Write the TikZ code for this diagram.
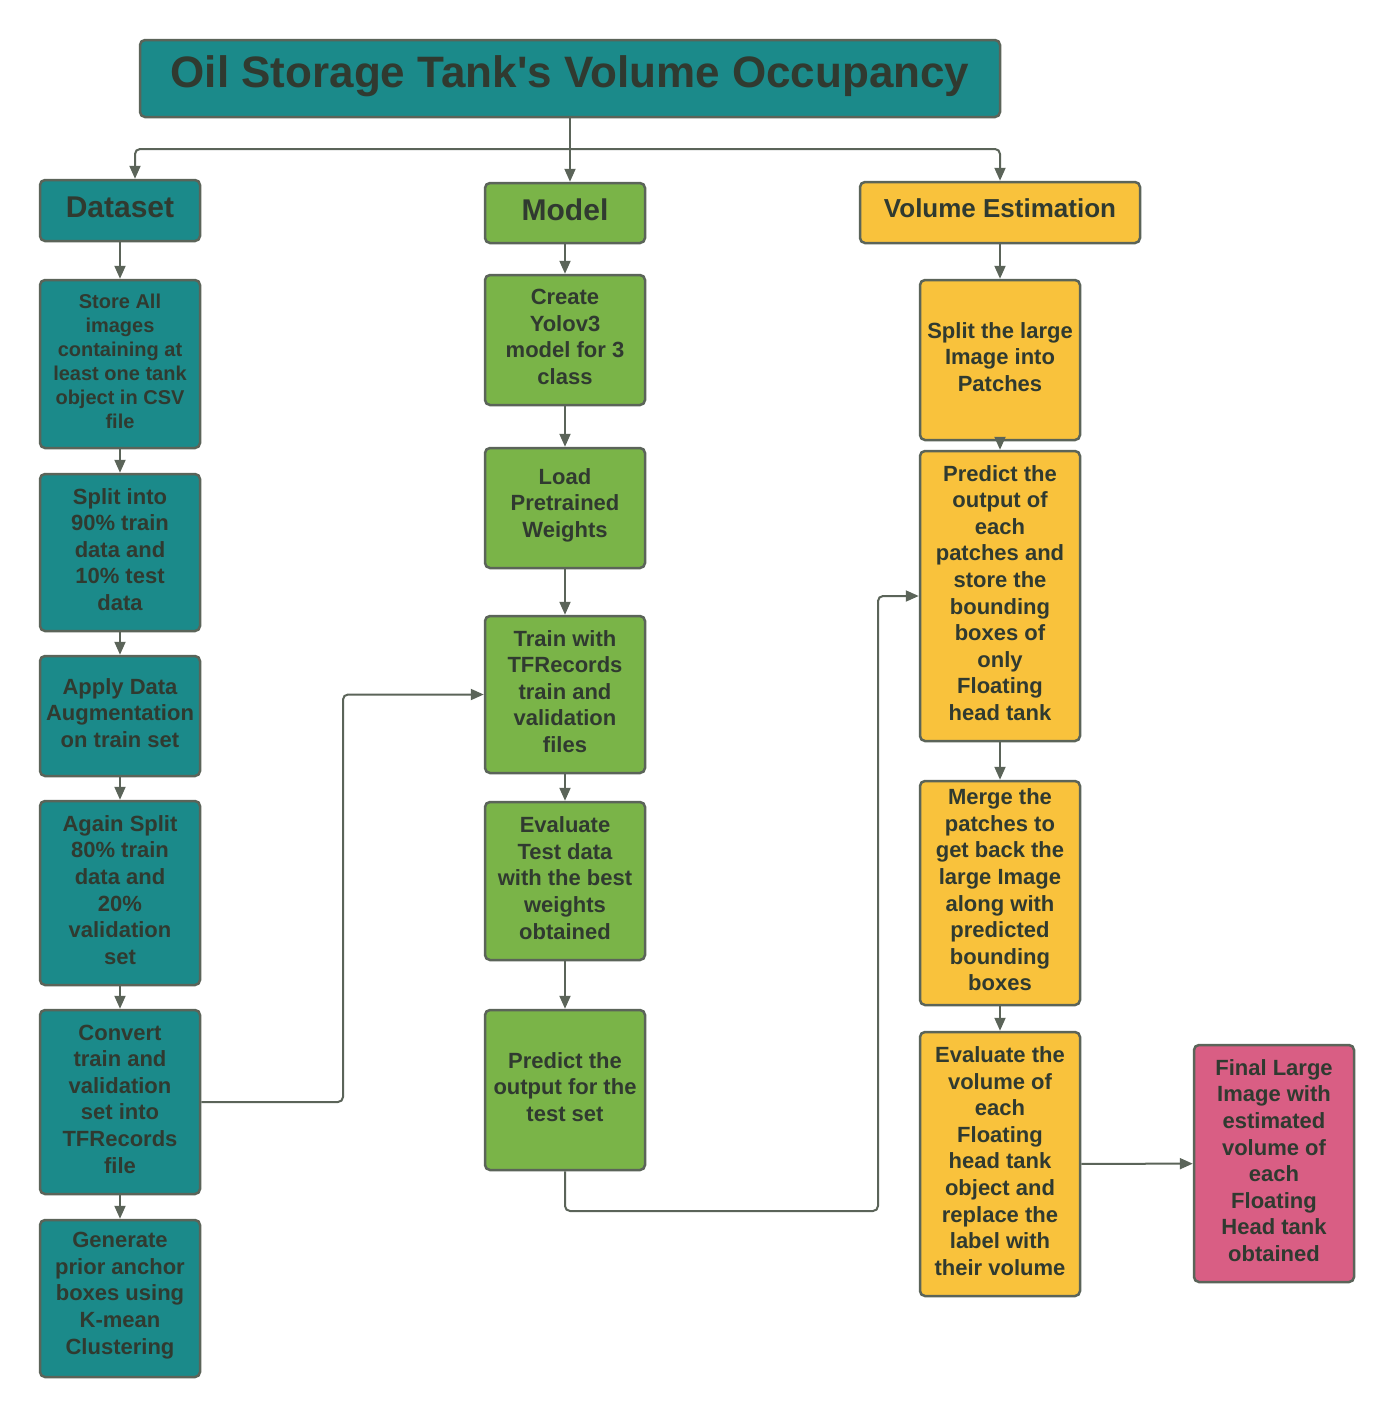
\documentclass[tikz,border=0pt]{standalone}
\usepackage{fontspec}
\setmainfont{Liberation Sans}
\usetikzlibrary{arrows.meta}
\definecolor{tealc}{RGB}{27,138,138}
\definecolor{greenc}{RGB}{122,180,72}
\definecolor{yellowc}{RGB}{249,194,60}
\definecolor{pinkc}{RGB}{217,94,132}
\definecolor{linec}{RGB}{91,100,89}
\definecolor{textc}{RGB}{48,58,48}
\newcommand\tbx[1]{\raisebox{3pt}[\height][\depth]{\parbox{160pt}{\centering #1}}}
\newcommand\tup[2]{\raisebox{#1}[\height][\depth]{#2}}
\begin{document}
\begin{tikzpicture}[x=1pt,y=-1pt,
  box/.style={draw=linec, line width=2.5pt, rounded corners=5pt, inner sep=0pt,
    minimum width=160pt, align=center, text=textc,
    font=\fontsize{22}{26.6}\selectfont\bfseries},
  tealbox/.style={box, fill=tealc},
  greenbox/.style={box, fill=greenc},
  yellowbox/.style={box, fill=yellowc},
  pinkbox/.style={box, fill=pinkc},
  arr/.style={draw=linec, line width=2pt, -{Triangle[length=13pt,width=11pt]}},
  conn/.style={draw=linec, line width=2pt, rounded corners=5pt}]
\useasboundingbox (0,0) rectangle (1394,1417);
\fill[white] (0,0) rectangle (1394,1417);

\node[tealbox, minimum width=860pt, minimum height=77pt,
  font=\fontsize{44}{50}\selectfont\bfseries] (title) at (570,78.5) {\tup{2pt}{Oil Storage Tank\textquotesingle s Volume Occupancy}};

\node[tealbox, minimum height=61pt, font=\fontsize{30}{34}\selectfont\bfseries] (dataset) at (120,210.5) {\tup{3pt}{Dataset}};
\node[greenbox, minimum height=60pt, font=\fontsize{30}{34}\selectfont\bfseries] (model) at (565,213) {\tup{3pt}{Model}};
\node[yellowbox, minimum width=280pt, minimum height=61pt, font=\fontsize{26}{30}\selectfont\bfseries] (volest) at (1000,212.5) {\tup{4pt}{Volume Estimation}};

% Dataset column
\node[tealbox, minimum height=168pt, font=\fontsize{20}{24}\selectfont\bfseries] (d1) at (120,364) {\tbx{Store All\\images\\containing at\\least one tank\\object in CSV\\file}};
\node[tealbox, minimum height=157pt] (d2) at (120,552.5) {\tbx{Split into\\90\% train\\data and\\10\% test\\data}};
\node[tealbox, minimum height=120pt] (d3) at (120,716) {\tbx{Apply Data\\Augmentation\\on train set}};
\node[tealbox, minimum height=184pt] (d4) at (120,893) {\tbx{Again Split\\80\% train\\data and\\20\%\\validation\\set}};
\node[tealbox, minimum height=184pt] (d5) at (120,1102) {\tbx{Convert\\train and\\validation\\set into\\TFRecords\\file}};
\node[tealbox, minimum height=157pt] (d6) at (120,1298.5) {\tbx{Generate\\prior anchor\\boxes using\\K-mean\\Clustering}};

% Model column
\node[greenbox, minimum height=130pt] (m1) at (565,340) {\tbx{Create\\Yolov3\\model for 3\\class}};
\node[greenbox, minimum height=120pt] (m2) at (565,508) {\tbx{Load\\Pretrained\\Weights}};
\node[greenbox, minimum height=157pt] (m3) at (565,694.5) {\tbx{Train with\\TFRecords\\train and\\validation\\files}};
\node[greenbox, minimum height=158pt] (m4) at (565,881) {\tbx{Evaluate\\Test data\\with the best\\weights\\obtained}};
\node[greenbox, minimum height=160pt] (m5) at (565,1090) {\tbx{Predict the\\output for the\\test set}};

% Volume column
\node[yellowbox, minimum height=160pt] (v1) at (1000,360) {\tbx{Split the large\\Image into\\Patches}};
\node[yellowbox, minimum height=290pt] (v2) at (1000,596) {\tbx{Predict the\\output of\\each\\patches and\\store the\\bounding\\boxes of\\only\\Floating\\head tank}};
\node[yellowbox, minimum height=224pt] (v3) at (1000,893) {\tbx{Merge the\\patches to\\get back the\\large Image\\along with\\predicted\\bounding\\boxes}};
\node[yellowbox, minimum height=264pt] (v4) at (1000,1164) {\tbx{Evaluate the\\volume of\\each\\Floating\\head tank\\object and\\replace the\\label with\\their volume}};
\node[pinkbox, minimum height=237pt] (fin) at (1274,1163.5) {\tbx{Final Large\\Image with\\estimated\\volume of\\each\\Floating\\Head tank\\obtained}};

% Title branches
\coordinate (split) at (570,149);
\draw[conn] (title.south) -- (split);
\draw[conn, arr] (split) -| ([xshift=15pt]dataset.north);
\draw[conn, arr] (split) -| (volest.north);
\draw[arr] (split) -- (split |- model.north);

% Column chains
\draw[arr] (dataset) -- (d1);
\draw[arr] (d1) -- (d2);
\draw[arr] (d2) -- (d3);
\draw[arr] (d3) -- (d4);
\draw[arr] (d4) -- (d5);
\draw[arr] (d5) -- (d6);

\draw[arr] (model) -- (m1);
\draw[arr] (m1) -- (m2);
\draw[arr] (m2) -- (m3);
\draw[arr] (m3) -- (m4);
\draw[arr] (m4) -- (m5);

\draw[arr] (volest) -- (v1);
\draw[arr] (v1) -- (v2);
\draw[arr] (v2) -- (v3);
\draw[arr] (v3) -- (v4);
\draw[arr] (v4) -- (fin);

% Cross connectors
\coordinate (c1) at (343,1102);
\draw[conn, arr] (d5.east) -- (c1) |- (m3.west);
\coordinate (c2) at (565,1211);
\coordinate (c3) at (878,1211);
\draw[conn, arr] (m5.south) -- (c2) -- (c3) |- (v2.west);
\end{tikzpicture}
\end{document}
